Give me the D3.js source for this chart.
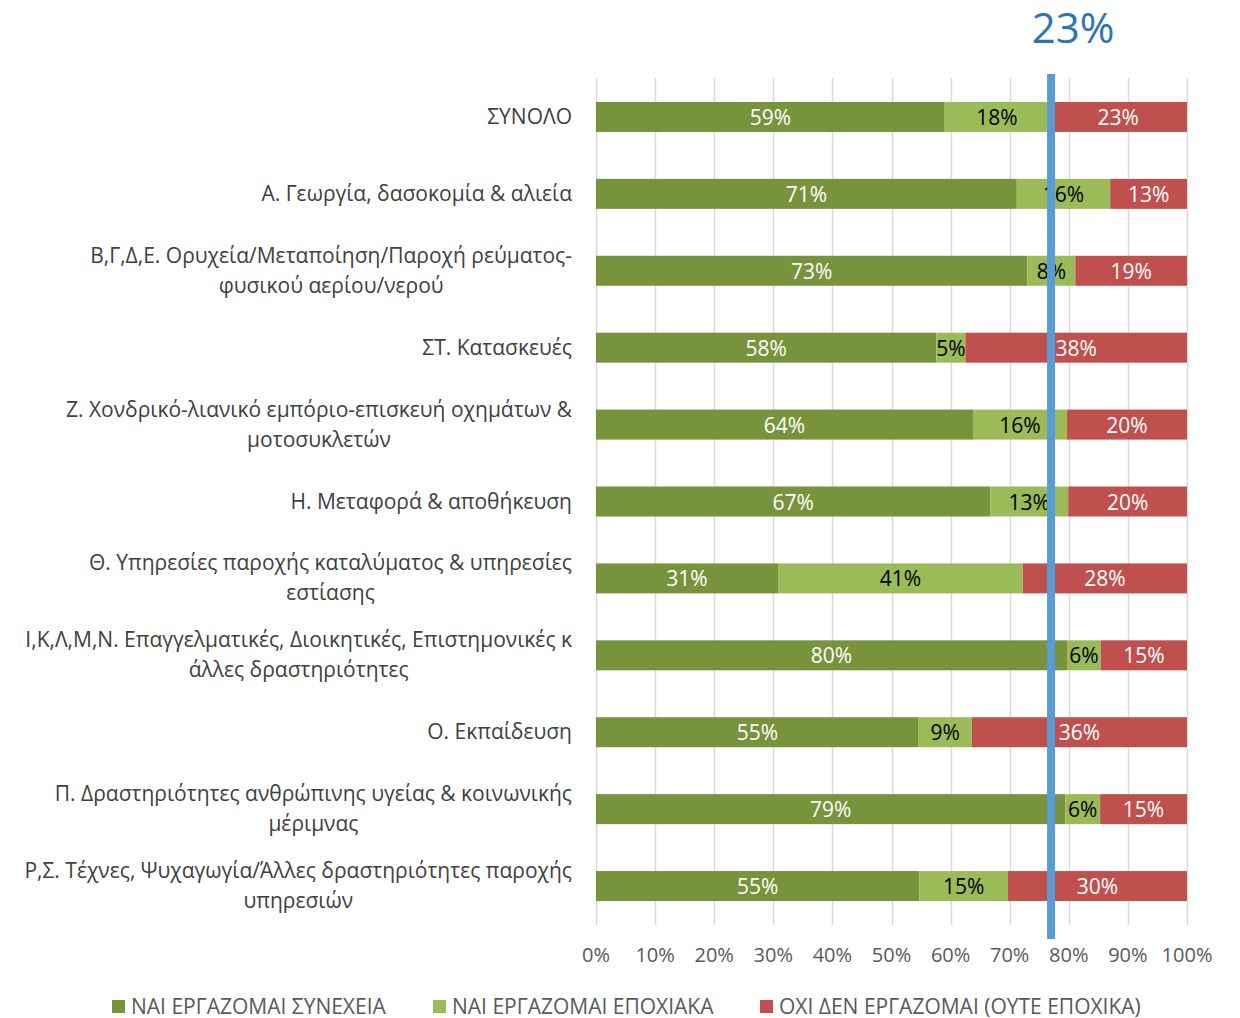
<!DOCTYPE html>
<html>
<head>
<meta charset="utf-8">
<script src="https://cdn.jsdelivr.net/npm/d3@7"></script>
<style>
  body { margin: 0; background: #fff; }
  svg { display: block; font-family: "Open Sans", sans-serif; }
</style>
</head>
<body>
<div id="chart"></div>
<script>
// categories (line breaks as in the picture)
var categories = [
	"ΣΥΝΟΛΟ",
	"Α. Γεωργία, δασοκομία & αλιεία",
	"Β,Γ,Δ,Ε. Ορυχεία/Μεταποίηση/Παροχή ρεύματος-\nφυσικού αερίου/νερού",
	"ΣΤ. Κατασκευές",
	"Ζ. Χονδρικό-λιανικό εμπόριο-επισκευή οχημάτων &\nμοτοσυκλετών",
	"Η. Μεταφορά & αποθήκευση",
	"Θ. Υπηρεσίες παροχής καταλύματος & υπηρεσίες\nεστίασης",
	"Ι,Κ,Λ,Μ,Ν. Επαγγελματικές, Διοικητικές, Επιστημονικές κ\nάλλες δραστηριότητες",
	"Ο. Εκπαίδευση",
	"Π. Δραστηριότητες ανθρώπινης υγείας & κοινωνικής\nμέριμνας",
	"Ρ,Σ. Τέχνες, Ψυχαγωγία/Άλλες δραστηριότητες παροχής\nυπηρεσιών"
];
var series = ["ΝΑΙ ΕΡΓΑΖΟΜΑΙ ΣΥΝΕΧΕΙΑ", "ΝΑΙ ΕΡΓΑΖΟΜΑΙ ΕΠΟΧΙΑΚΑ", "ΟΧΙ ΔΕΝ ΕΡΓΑΖΟΜΑΙ (ΟΥΤΕ ΕΠΟΧΙΚΑ)"];
var continuous = [0.59, 0.712, 0.73, 0.576, 0.638, 0.667, 0.308, 0.797, 0.546, 0.794, 0.547];
var seasonal   = [0.177, 0.158, 0.081, 0.049, 0.159, 0.132, 0.414, 0.057, 0.09, 0.059, 0.15];
var notWorking = [0.233, 0.13, 0.189, 0.375, 0.203, 0.201, 0.278, 0.146, 0.364, 0.147, 0.303];
var ticks = [0, 0.1, 0.2, 0.3, 0.4, 0.5, 0.6, 0.7, 0.8, 0.9, 1];
var refValue = 0.23;
var refLabel = "23%";

var colors = ["#77933C", "#9BBB59", "#C0504D"];
var labelColors = ["#ffffff", "#000000", "#ffffff"];

var W = 1240, H = 1018;
var svg = d3.select("#chart").append("svg").attr("width", W).attr("height", H);

var x = d3.scaleLinear().domain([0, 1]).range([596, 1187]);
var y = d3.scaleBand().domain(categories).range([78.5, 924.5]).paddingInner(0.61).paddingOuter(0.305);

// grid
svg.append("g").selectAll("line").data(ticks).enter().append("line")
	.attr("x1", function(d) { return Math.round(x(d)) + 0.5; })
	.attr("x2", function(d) { return Math.round(x(d)) + 0.5; })
	.attr("y1", 78).attr("y2", 925)
	.attr("stroke", "#d9d9d9").attr("stroke-width", 1.5);

// tick labels
svg.append("g").selectAll("text").data(ticks).enter().append("text")
	.attr("x", function(d) { return x(d); })
	.attr("y", 962)
	.attr("text-anchor", "middle")
	.attr("font-size", 20).attr("fill", "#595959")
	.text(d3.format(".0%"));

// stacked data
var rows = categories.map(function(c, i) { return [continuous[i], seasonal[i], notWorking[i]]; });
var bars = svg.append("g");
rows.forEach(function(vals, i) {
	var start = 0;
	vals.forEach(function(v, k) {
		bars.append("rect")
			.attr("x", x(start)).attr("y", y(categories[i]))
			.attr("width", x(start + v) - x(start)).attr("height", y.bandwidth())
			.attr("fill", colors[k]);
		start += v;
	});
});

// segment labels
rows.forEach(function(vals, i) {
	var start = 0;
	vals.forEach(function(v, k) {
		bars.append("text")
			.attr("x", x(start + v / 2))
			.attr("y", y(categories[i]) + y.bandwidth() / 2 + 8)
			.attr("text-anchor", "middle")
			.attr("font-size", 21).attr("fill", labelColors[k])
			.text(Math.round(v * 100) + "%");
		start += v;
	});
});

// category labels: lines centered inside a block right-aligned at 572
var labels = svg.append("g");
categories.forEach(function(c) {
	var lines = c.split("\n");
	var cy = y(c) + y.bandwidth() / 2;
	var g = labels.append("g");
	var texts = lines.map(function(l, j) {
		return g.append("text")
			.attr("y", cy + (j - (lines.length - 1) / 2) * 30 + 7)
			.attr("font-size", 21).attr("fill", "#404040")
			.attr("text-anchor", "middle")
			.text(l);
	});
	var maxW = d3.max(texts, function(t) { return t.node().getComputedTextLength(); });
	texts.forEach(function(t) { t.attr("x", 572 - maxW / 2); });
});

// reference line
var rx = x(1 - refValue);
svg.append("line")
	.attr("x1", rx).attr("x2", rx).attr("y1", 74).attr("y2", 939)
	.attr("stroke", "#5B9BD5").attr("stroke-width", 8);
svg.append("text")
	.attr("x", rx + 22).attr("y", 43)
	.attr("text-anchor", "middle")
	.attr("font-size", 42).attr("fill", "#2E75B6")
	.text(refLabel);

// legend
var legX = [112, 433, 760];
var leg = svg.append("g");
series.forEach(function(s, k) {
	leg.append("rect").attr("x", legX[k]).attr("y", 1000).attr("width", 13).attr("height", 13).attr("fill", colors[k]);
	leg.append("text").attr("x", legX[k] + 19).attr("y", 1014)
		.attr("font-size", 21).attr("fill", "#595959")
		.text(s);
});
</script>
</body>
</html>
